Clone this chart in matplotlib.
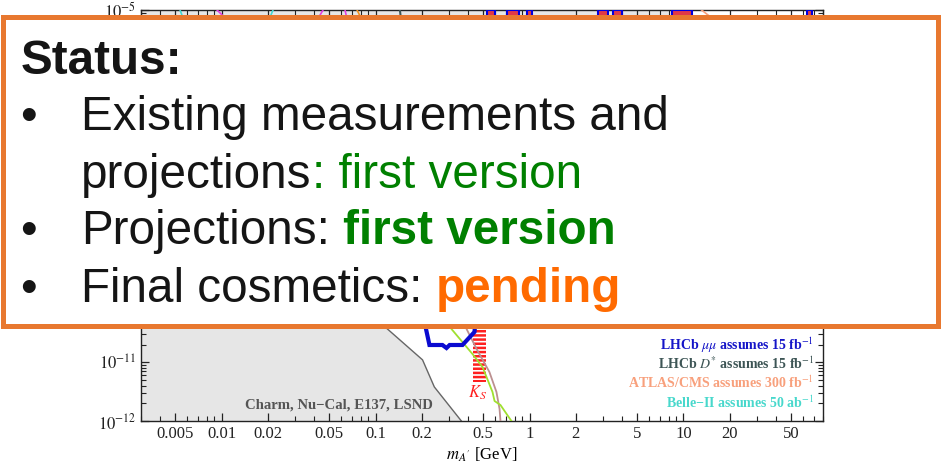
import matplotlib
matplotlib.use('Agg')
import matplotlib.pyplot as plt
from matplotlib.patches import Rectangle
from matplotlib.ticker import FixedLocator, FixedFormatter, LogLocator, NullFormatter
import numpy as np

plt.rcParams['font.family'] = 'serif'
plt.rcParams['font.serif'] = ['Liberation Serif', 'DejaVu Serif']
plt.rcParams['mathtext.fontset'] = 'stix'
plt.rcParams['hatch.linewidth'] = 1.8

# axis ticks
xtick_vals = [0.005, 0.01, 0.02, 0.05, 0.1, 0.2, 0.5, 1, 2, 5, 10, 20, 50]
xtick_labels = ['0.005', '0.01', '0.02', '0.05', '0.1', '0.2', '0.5', '1', '2', '5', '10', '20', '50']
ytick_exp = [-12, -11, -10, -9, -8, -7, -6, -5]

# existing limits from above (prompt searches), lower edge
top_m = [0.003, 0.02, 0.1, 0.5, 1, 3, 8, 10.5, 11.3]
top_eps2 = [3e-7, 2e-7, 5e-7, 1e-6, 1.2e-6, 1.5e-6, 2e-6, 4e-6, 1e-5]

# beam dumps: Charm, Nu-Cal, E137, LSND (upper edge)
dump_m = [0.003, 0.01, 0.03, 0.06, 0.09, 0.118, 0.202, 0.241, 0.361]
dump_eps2 = [1e-7, 6e-8, 1.5e-8, 2e-9, 3e-10, 3.8e-11, 1.1e-11, 3.8e-12, 1e-12]

# LHCb mu mu displaced island
mm_m = [0.208, 0.224, 0.272, 0.289, 0.303, 0.367, 0.439, 0.446, 0.44, 0.38, 0.3, 0.25, 0.208]
mm_eps2 = [4.86e-11, 1.97e-11, 1.97e-11, 1.75e-11, 1.97e-11, 1.97e-11, 3.28e-11, 4.86e-11,
           2e-10, 6e-10, 5e-10, 2e-10, 4.86e-11]

# LHCb mu mu prompt: resonance windows reaching the top
veto_lo = [0.526, 0.719, 0.970, 2.77, 3.46, 8.48, 63.8]
veto_hi = [0.593, 0.861, 1.045, 3.21, 3.96, 11.3, 68.8]

# other projections
green_m = [0.15, 0.22, 0.3114, 0.4266, 0.4955, 0.575, 0.593, 0.648, 0.763]
green_eps2 = [6e-10, 1.5e-10, 3.69e-11, 1.38e-11, 8.3e-12, 3.12e-12, 2.19e-12, 1.87e-12, 1e-12]
brown_m = [0.25, 0.3, 0.379, 0.453, 0.549, 0.610, 0.639, 0.648]
brown_eps2 = [4e-10, 1.2e-10, 4.3e-11, 1.69e-11, 6.84e-12, 3.12e-12, 1.6e-12, 1e-12]
belle_m = [0.00538, 0.007, 0.01, 0.016, 0.0216]
belle_eps2 = [1e-5, 1.5e-6, 8e-7, 1.5e-6, 1e-5]
magenta_m = [0.00935, 0.015, 0.025, 0.035, 0.0456]
magenta_eps2 = [1e-5, 3e-6, 2e-6, 3e-6, 1e-5]
magenta2_m = [0.0634, 0.07, 0.09]
magenta2_eps2 = [1e-5, 3e-6, 1e-6]
orange_m = [0.0759, 0.09, 0.12]
orange_eps2 = [1e-5, 4e-6, 2e-6]
dstar_m = [0.144, 0.16, 0.2]
dstar_eps2 = [1e-5, 1e-6, 1e-7]
atlas_m = [13.1, 14.7, 20, 40, 70]
atlas_eps2 = [1e-5, 7.9e-6, 4e-6, 2e-6, 1.5e-6]

# K_S veto band
ks_m = [0.432, 0.518]
ks_eps2 = [4.6e-12, 2e-10]

notes = ['LHCb $\\mu\\mu$ assumes 15 fb$^{-1}$',
         'LHCb $D^{*}$ assumes 15 fb$^{-1}$',
         'ATLAS/CMS assumes 300 fb$^{-1}$',
         'Belle\u2212II assumes 50 ab$^{-1}$']
note_colors = ['#1515c8', '#3d5555', '#f8a07c', '#48d8cc']

W, H = 941, 469
fig = plt.figure(figsize=(W / 100, H / 100), dpi=100)
ax = fig.add_axes([141 / W, 48 / H, 682.4 / W, 411 / H])
ax.set_xscale('log')
ax.set_yscale('log')
ax.set_xlim(0.003, 81)
ax.set_ylim(1e-12, 1e-5)

grey = '#e6e6e6'
ax.fill_between(top_m, top_eps2, 1e-5, color=grey, lw=0, zorder=1)
ax.fill_between(dump_m, 1e-12, dump_eps2, color=grey, lw=0, zorder=1)
ax.plot(dump_m, dump_eps2, color='#666666', lw=1, zorder=2)

for lo, hi in zip(veto_lo, veto_hi):
    ax.add_patch(Rectangle((lo, 1e-7), hi - lo, 1e-5 - 1e-7, facecolor='#e03848',
                           edgecolor='#0000dd', lw=1.5, zorder=3))

ax.plot(belle_m, belle_eps2, color='#40d8d0', lw=1.2, zorder=3)
ax.plot(magenta_m, magenta_eps2, color='#e040e0', lw=1.2, zorder=3)
ax.plot(magenta2_m, magenta2_eps2, color='#e040e0', lw=1.2, zorder=3)
ax.plot(orange_m, orange_eps2, color='#f09020', lw=1.2, zorder=3)
ax.plot(dstar_m, dstar_eps2, color='#3d5555', lw=1.5, zorder=3)
ax.plot(atlas_m, atlas_eps2, color='#f8a07c', lw=1.2, zorder=3)

ax.add_patch(Rectangle((ks_m[0], ks_eps2[0]), ks_m[1] - ks_m[0], ks_eps2[1] - ks_eps2[0],
                       facecolor='white', edgecolor='#ff2020', hatch='----', lw=0, zorder=3))
ax.text(0.459, 3e-12, '$\\boldsymbol{K_S}$', color='#ff2020', fontsize=12,
        ha='center', va='center', zorder=5)

ax.plot(brown_m, brown_eps2, color='#bc9090', lw=1.3, zorder=4)
ax.plot(green_m, green_eps2, color='#a0e030', lw=1.3, zorder=4)
ax.plot(mm_m, mm_eps2, color='#0a0ad0', lw=3, zorder=4, solid_joinstyle='miter')

ax.text(0.428, 0.039, 'Charm, Nu\u2212Cal, E137, LSND', transform=ax.transAxes,
        ha='right', va='center', fontsize=10.6, fontweight='bold', color='#555555', zorder=5)
for i, (s, c) in enumerate(zip(notes, note_colors)):
    ax.text(0.986, 0.185 - 0.0465 * i, s, transform=ax.transAxes, ha='right', va='center',
            fontsize=10, fontweight='bold', color=c, zorder=5)

ax.xaxis.set_major_locator(FixedLocator(xtick_vals))
ax.xaxis.set_major_formatter(FixedFormatter(xtick_labels))
ax.xaxis.set_minor_locator(LogLocator(base=10, subs=np.arange(1, 10), numticks=50))
ax.xaxis.set_minor_formatter(NullFormatter())
ax.yaxis.set_major_locator(FixedLocator([10.0 ** e for e in ytick_exp]))
ax.yaxis.set_major_formatter(FixedFormatter(['$10^{%d}$' % e for e in ytick_exp]))
ax.yaxis.set_minor_locator(LogLocator(base=10, subs=np.arange(2, 10), numticks=50))
ax.yaxis.set_minor_formatter(NullFormatter())
ax.tick_params(which='both', direction='in', top=True, right=True, labelsize=12,
               colors='#222222')
ax.tick_params(which='major', length=6, width=0.9)
ax.tick_params(which='minor', length=3.5, width=0.8)
for sp in ax.spines.values():
    sp.set_color('#222222')
    sp.set_linewidth(1.0)
ax.set_xlabel("$m_{A'}$ [GeV]", fontsize=12, labelpad=3)

# status box on top of the plot
box = Rectangle((2.5 / W, 1 - 325.5 / H), 935 / W, 309 / H, transform=fig.transFigure,
                facecolor='white', edgecolor='#e8782f', lw=3.6, zorder=10)
fig.add_artist(box)

sans = 'Liberation Sans'
fs = 34.3
ink = '#151515'
green = '#008000'
orange = '#ff6a00'
renderer = fig.canvas.get_renderer()


def put(x, y, s, **kw):
    return fig.text(x / W, 1 - y / H, s, ha='left', va='baseline', family=sans,
                    fontsize=fs, zorder=20, **kw)


def width(s, **kw):
    t = fig.text(0, 0, s, family=sans, fontsize=fs, **kw)
    w = t.get_window_extent(renderer).width
    t.remove()
    return w


space = width('x x') - width('xx')


def after(t, y, s, gap=0.0, **kw):
    x = t.get_window_extent(renderer).x1 + gap
    return put(x, y, s, **kw)


put(21, 74, 'Status:', fontweight='bold', color=ink)
for yb in [130, 244, 302]:
    put(20, yb, '\u2022', color=ink)
put(81, 130, 'Existing measurements and', color=ink)
t = put(81, 188, 'projections', color=ink)
after(t, 188, ': first version', color=green)
t = put(81, 244, 'Projections:', color=ink)
after(t, 244, 'first version', gap=space, fontweight='bold', color=green)
t = put(81, 302, 'Final cosmetics:', color=ink)
after(t, 302, 'pending', gap=space, fontweight='bold', color=orange)

fig.savefig('out.png', dpi=100)
